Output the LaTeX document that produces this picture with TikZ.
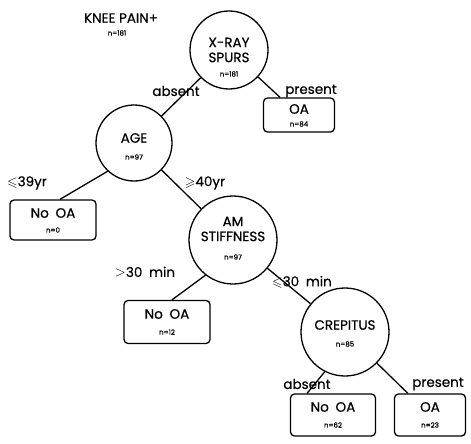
\documentclass[tikz,border=0pt]{standalone}
\usepackage{fontspec}
\usepackage{amssymb}
\setmainfont{Poppins}[BoldFont=Poppins, BoldFeatures={FakeBold=0.6}]
\usetikzlibrary{calc}
\tikzset{
  circ/.style={draw, circle, line width=1.3pt, inner sep=0pt},
  obox/.style={draw, rounded corners=4pt, line width=1.3pt, inner sep=0pt},
  conn/.style={line width=1.3pt},
  txt/.style={font=\fontsize{13.5}{15}\selectfont\bfseries, align=center, inner sep=0pt},
  ntxt/.style={font=\fontsize{7}{8}\selectfont\bfseries, inner sep=0pt},
  lbl/.style={font=\fontsize{13.5}{15}\selectfont\bfseries, inner sep=0pt},
}
\begin{document}
\begin{tikzpicture}[x=1pt,y=-1pt]
\useasboundingbox (0,0) rectangle (471,444);
% header
\node[txt] (knee) at (121,18) {KNEE PAIN+};
\node[ntxt] (kneen) at (117,33) {n=181};
% circles
\node[circ, minimum size=78pt] (xray) at (229,50) {};
\node[txt] (xrayt) at (229,50) {X-RAY\\SPURS};
\node[ntxt] (xrayn) at (229,74) {n=181};
\node[circ, minimum size=76pt] (age) at (134,143) {};
\node[txt] (aget) at (134,138) {AGE};
\node[ntxt] (agen) at (134,157) {n=97};
\node[circ, minimum size=88pt] (am) at (233,240) {};
\node[txt] (amt) at (233,229) {AM\\STIFFNESS};
\node[ntxt] (amn) at (233,257) {n=97};
\node[circ, minimum size=88pt] (crep) at (345,332) {};
\node[txt] (crept) at (345,325) {CREPITUS};
\node[ntxt] (crepn) at (345,344) {n=85};
% boxes
\node[obox, minimum width=71pt, minimum height=34pt] (oa1) at (299,115) {};
\node[txt] at (299,109) {OA};
\node[ntxt] at (299,124) {n=84};
\node[obox, minimum width=86pt, minimum height=40pt] (noa1) at (53,220) {};
\node[txt] at (53,213) {No\enspace OA};
\node[ntxt] at (53,230) {n=0};
\node[obox, minimum width=86pt, minimum height=43pt] (noa2) at (167,322) {};
\node[txt] at (167,314) {No\enspace OA};
\node[ntxt] at (167,332) {n=12};
\node[obox, minimum width=85pt, minimum height=42pt] (noa3) at (333,415) {};
\node[txt] at (333,407) {No\enspace OA};
\node[ntxt] at (333,425) {n=62};
\node[obox, minimum width=71pt, minimum height=42pt] (oa2) at (430,415) {};
\node[txt] at (430,407) {OA};
\node[ntxt] at (430,425) {n=23};
% labels
\node[lbl] at (176,91) {absent};
\node[lbl] at (311,91) {present};
\node[lbl] at (27,183) {$\leqslant$39yr};
\node[lbl] at (205,183) {$\geqslant$40yr};
\node[lbl] at (145,272) {$>$30\enspace min};
\node[lbl] at (302,282) {$\leqslant$30\enspace min};
\node[lbl] at (307,384) {absent};
\node[lbl] at (438,384) {present};
% connectors
\draw[conn] (xray) -- (age);
\draw[conn] (xray) -- (oa1);
\draw[conn] (age.227) -- ([xshift=7pt]noa1.north);
\draw[conn] (age) -- (am);
\draw[conn] (am.232) -- ([xshift=5pt]noa2.north);
\draw[conn] (am) -- (crep);
\draw[conn] (crep.243) -- ([xshift=-26pt]noa3.north);
\draw[conn] (crep) -- (oa2);
\end{tikzpicture}
\end{document}
